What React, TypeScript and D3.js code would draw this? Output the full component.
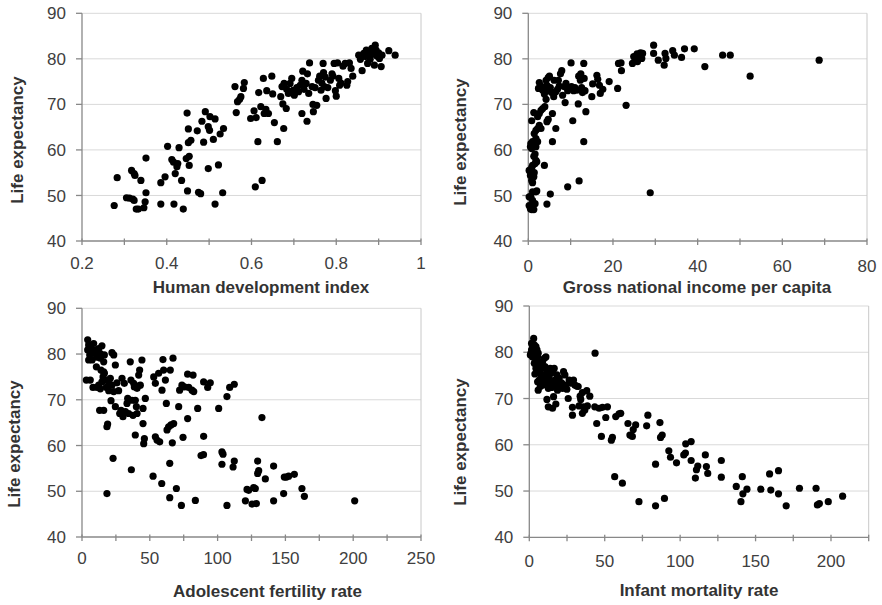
import React from "react";
import * as d3 from "d3";

// ---------- data ----------
const yTicks = [40, 50, 60, 70, 80, 90];

const hdiTicks = [0.2, 0.4, 0.6, 0.8, 1];
const hdiX = [
  0.276, 0.283, 0.305, 0.312, 0.32, 0.323, 0.317, 0.323, 0.325, 0.328, 0.333, 0.339, 0.346, 0.349, 0.351, 0.351,
  0.386, 0.386, 0.396, 0.402, 0.412, 0.416, 0.417, 0.42, 0.424, 0.426, 0.429, 0.435, 0.439, 0.446, 0.449, 0.448,
  0.451, 0.451, 0.453, 0.453, 0.457, 0.472, 0.475, 0.48, 0.483, 0.487, 0.491, 0.498, 0.498, 0.501, 0.502, 0.51,
  0.514, 0.514, 0.522, 0.526, 0.532, 0.534,
  0.561, 0.564, 0.567, 0.572, 0.575, 0.581, 0.583, 0.598, 0.606, 0.609, 0.611, 0.615, 0.617, 0.622, 0.625, 0.628,
  0.63, 0.634, 0.636, 0.64, 0.648, 0.65, 0.654, 0.661, 0.669, 0.672, 0.674, 0.676, 0.677, 0.682, 0.683, 0.687,
  0.691, 0.695, 0.698, 0.701, 0.707, 0.711, 0.715, 0.719, 0.721, 0.719, 0.724, 0.729, 0.731, 0.732, 0.735, 0.737,
  0.743, 0.745, 0.746, 0.75, 0.754, 0.758, 0.761, 0.764, 0.766, 0.769, 0.77, 0.772, 0.774, 0.776, 0.78, 0.786,
  0.79, 0.792, 0.795, 0.798, 0.8, 0.803, 0.806, 0.808, 0.811, 0.816, 0.821, 0.825, 0.827, 0.831, 0.835, 0.839,
  0.853, 0.857, 0.861, 0.865, 0.869, 0.871, 0.874, 0.876, 0.88, 0.884, 0.886, 0.89, 0.892, 0.894, 0.896, 0.9,
  0.902, 0.906, 0.908, 0.924, 0.939,
];
const hdiY = [
  47.8, 53.9, 49.5, 49.4, 49.2, 48.9, 55.5, 54.8, 54.4, 47.0, 47.0, 53.3, 47.3, 48.6, 50.6, 58.2,
  48.1, 52.8, 54.1, 60.8, 57.9, 57.3, 48.1, 54.8, 56.3, 57.0, 60.5, 53.3, 47.0, 58.1, 51.0, 68.1,
  64.6, 61.6, 58.6, 56.6, 62.1, 64.2, 50.7, 50.4, 66.3, 61.7, 68.4, 65.1, 55.9, 64.3, 67.3, 62.3,
  66.8, 48.1, 56.7, 63.5, 50.6, 64.7,
  73.9, 68.2, 70.6, 71.1, 71.7, 73.5, 74.8, 66.9, 68.6, 51.9, 67.1, 61.8, 72.6, 69.5, 53.3, 75.7,
  68.0, 68.9, 73.0, 68.0, 76.2, 72.3, 66.0, 61.8, 71.7, 73.9, 70.1, 64.7, 74.6, 69.1, 73.3, 72.4,
  74.6, 75.7, 73.1, 72.0, 73.7, 72.8, 74.2, 75.3, 77.3, 68.0, 73.3, 74.6, 66.3, 76.7, 72.4, 79.1,
  73.9, 70.0, 68.4, 73.7, 69.8, 75.3, 76.2, 73.1, 74.7, 79.0, 77.0, 73.9, 76.0, 71.3, 73.7, 75.3,
  76.7, 76.2, 79.0, 73.0, 71.8, 79.1, 75.7, 74.2, 74.7, 78.4, 79.0, 74.2, 75.0, 79.1, 77.9, 76.2,
  80.8, 79.9, 77.4, 81.2, 80.5, 81.9, 79.0, 81.2, 79.9, 82.3, 81.0, 78.6, 83.0, 81.9, 80.6, 81.3,
  80.1, 78.3, 80.8, 81.8, 80.8,
];

const gniTicks = [0, 20, 40, 60, 80];
const gniX = [
  0.2, 0.5, 0.8, 1.3, 1.6, 1.0, 0.2, 0.6, 1.0, 1.8, 2.0, 0.2, 0.5, 0.8, 1.0, 1.3, 1.4, 0.8, 1.0, 1.6, 1.8, 1.3,
  1.6, 2.0, 0.5, 0.6, 1.0, 0.8, 1.8, 2.2, 1.8, 1.4, 1.8, 2.2, 3.0, 2.6, 0.8, 1.3, 2.2, 2.6, 3.0, 3.4, 3.9, 4.2,
  4.4, 4.7, 3.8, 4.4, 5.2, 5.7, 5.7, 6.5,
  2.4, 2.6, 3.0, 3.4, 3.8, 3.9, 4.2, 4.4, 4.6, 4.7, 5.0, 5.2, 5.5, 6.0, 6.1, 6.5, 6.9, 7.1, 7.3, 7.6, 7.9, 8.1,
  8.5, 8.7, 8.9, 9.3, 9.7, 10.1, 10.2, 10.5, 10.7, 11.0, 11.5, 11.8, 11.9, 12.3, 12.4, 12.6, 12.8, 13.1, 13.1, 13.2,
  13.4, 13.6, 12.0, 9.3, 15.0, 15.2, 16.2, 16.4, 16.8, 17.0, 17.6, 19.1, 21.1, 21.3, 21.9, 22.0, 23.1, 24.6, 24.9, 25.2,
  25.7, 25.8, 26.2, 26.5, 26.8, 27.0, 28.8, 29.6, 29.6, 30.7, 32.1, 32.3, 32.5, 34.1, 34.5, 36.2, 36.9, 39.2, 41.7, 45.9,
  47.7, 52.4, 68.7,
];
const gniY = [
  47.8, 47.1, 46.9, 46.9, 48.2, 48.9, 49.7, 49.8, 50.8, 50.8, 51.0, 55.5, 54.4, 53.3, 52.8, 54.1, 55.0, 56.1, 56.6, 57.0, 57.7, 58.6,
  59.1, 57.4, 60.7, 61.4, 61.8, 60.3, 60.7, 61.8, 62.5, 63.6, 64.3, 64.7, 64.7, 65.4, 66.4, 68.2, 67.3, 68.0, 68.7, 69.1, 69.5, 71.1,
  66.2, 66.7, 56.6, 48.1, 50.3, 68.0, 61.8, 64.7,
  73.5, 74.8, 74.0, 73.1, 72.3, 73.7, 75.3, 74.2, 73.0, 75.9, 76.2, 73.7, 72.6, 71.7, 75.3, 72.8, 73.3, 75.3, 74.0, 76.7, 77.4, 72.0,
  73.9, 70.4, 74.6, 73.0, 73.7, 79.1, 73.9, 66.4, 73.0, 73.7, 73.1, 70.1, 76.2, 75.3, 76.7, 73.7, 72.6, 79.0, 61.8, 75.7,
  73.0, 68.4, 53.2, 51.9, 71.7, 74.5, 76.4, 75.5, 74.2, 72.4, 73.3, 75.0, 73.5, 79.0, 79.1, 77.4, 69.8, 79.0, 80.5, 79.7,
  81.1, 79.4, 80.5, 81.3, 80.1, 81.2, 50.6, 83.0, 81.2, 79.7, 78.6, 81.2, 80.1, 81.8, 80.8, 80.3, 82.2, 82.2, 78.3, 80.8,
  80.8, 76.2, 79.7,
];

const afrTicks = [0, 50, 100, 150, 200, 250];
const afrX = [
  3.2, 4.2, 4.2, 4.9, 5.7, 4.9, 6.6, 7.4, 6.1, 8.1, 8.6, 9.8, 10.6, 11.1, 12.3, 12.3, 13.0, 13.5, 14.0, 14.7, 15.5, 16.0,
  16.0, 16.5, 17.9, 18.4, 18.9, 18.4, 19.7, 20.9, 21.4, 22.1, 22.9, 23.4, 24.6, 24.6, 25.8, 27.0, 27.8, 28.8, 29.5, 30.2,
  31.2, 32.0, 33.2, 33.7, 35.6, 36.1, 36.4, 37.6, 38.1, 38.6, 39.3, 39.3, 40.1, 40.6, 41.1, 41.8, 42.5, 43.0, 44.2, 45.0,
  45.0, 45.5, 46.0, 46.7,
  9.1, 11.1, 13.5, 16.5, 7.4, 14.7, 17.2, 19.7, 22.1, 23.4, 34.4, 36.9, 40.6, 16.0, 13.5,
  52.4, 52.9, 54.1, 54.1, 55.3, 56.5, 57.3, 58.8, 59.0, 59.7, 60.2, 61.5, 62.2, 62.7, 63.9, 64.7, 64.7, 65.1, 65.6, 66.6,
  67.1, 67.6, 69.6, 71.3, 72.0, 73.3, 73.7, 74.5, 75.5, 77.9, 77.9, 78.7, 81.1, 81.9, 82.4, 83.6, 85.3, 87.8, 89.6, 89.7,
  89.7, 92.7, 94.6, 100.8, 103.2, 104.0, 103.2, 106.9, 106.9, 108.9, 111.4, 112.3, 112.3, 120.5, 121.7, 122.9, 125.4, 126.6,
  127.8, 128.6, 129.5, 130.3, 129.5, 132.7, 135.2, 141.3, 141.3, 148.7, 149.2, 150.7, 152.4, 156.6, 162.2, 164.0, 201.1,
];
const afrY = [
  74.3, 83.1, 80.9, 82.0, 79.8, 78.7, 81.2, 80.5, 74.3, 72.7, 82.3, 80.9, 77.2, 72.7, 81.2, 73.2, 67.7, 80.1, 76.5, 81.8, 75.0, 78.3,
  67.7, 75.8, 72.7, 64.1, 64.7, 49.5, 72.0, 74.7, 69.8, 80.3, 57.2, 79.8, 77.6, 68.5, 73.7, 72.0, 67.0, 67.7, 74.7, 66.3,
  73.6, 67.4, 69.2, 70.3, 78.3, 74.3, 54.7, 66.6, 73.6, 72.8, 62.3, 69.9, 68.5, 67.0, 73.0, 75.4, 76.5, 73.2, 78.7, 68.1,
  64.8, 60.4, 61.5, 70.3,
  80.1, 79.3, 79.1, 79.8, 78.7, 73.9, 74.3, 73.9, 73.2, 71.8, 67.0, 69.9, 72.5, 76.1, 72.4,
  53.3, 75.0, 73.6, 61.9, 61.2, 75.8, 60.8, 51.7, 72.1, 78.8, 76.5, 74.3, 69.2, 63.4, 64.1, 48.6, 56.1, 76.5, 64.5, 60.6,
  79.1, 64.8, 50.6, 68.5, 72.1, 46.9, 73.2, 61.8, 72.8, 65.9, 75.6, 72.7, 72.1, 75.4, 71.8, 48.0, 68.1, 57.8, 58.0, 62.0,
  73.9, 72.7, 73.7, 68.1, 58.6, 58.1, 55.9, 70.7, 46.9, 72.7, 55.3, 56.6, 73.4, 47.9, 50.4, 50.2, 47.2, 50.8,
  50.6, 47.3, 53.9, 54.5, 56.6, 66.1, 52.7, 55.5, 47.9, 49.5, 53.1, 53.1, 53.3, 53.7, 50.6, 48.9, 47.9,
];

const imrTicks = [0, 50, 100, 150, 200];
const imrX = [
  2.9, 1.5, 2.2, 1.1, 1.5, 3.3, 4.4, 5.1, 3.7, 4.4, 5.5, 5.9, 6.6, 5.1, 5.9, 6.6, 5.5, 7.7, 8.1, 8.8, 9.9, 11.0,
  8.8, 5.9, 9.9, 11.0, 11.7, 12.1, 12.6, 11.7, 12.6, 13.2, 13.9, 14.3, 14.8, 15.4, 15.4, 16.1, 16.5, 17.0, 17.6, 17.6,
  18.3, 18.7, 19.2, 19.8, 20.5, 21.4, 22.0, 22.7, 23.6, 24.2, 24.9, 25.8, 26.4, 27.5, 28.6, 28.6, 29.3, 30.2, 31.5, 32.4,
  33.0, 33.7, 34.1, 35.2, 35.2, 35.9, 36.8, 38.1, 38.5, 40.1, 43.6, 43.4, 44.7, 46.3, 47.8, 48.5, 50.7, 51.8, 54.4, 55.1,
  56.6, 57.3, 59.5, 60.6, 61.7, 65.4, 66.7, 68.3, 68.9, 70.5, 72.7, 77.8, 78.6, 83.7, 83.7, 86.6, 87.0, 88.1, 89.6, 92.5,
  93.6, 97.6, 102.4, 103.5, 103.7, 107.3, 107.3, 110.1, 110.8, 111.7, 116.7, 117.4, 118.3, 127.3, 127.3, 137.2, 140.3, 141.2,
  141.6, 144.3, 153.5, 159.3, 160.1, 165.2, 165.2, 170.3, 179.1, 190.1, 191.0, 192.3, 198.2, 207.7,
  0.7, 2.2, 3.3, 4.4, 3.7, 7.3, 9.5, 10.4,
];
const imrY = [
  83.0, 81.9, 81.1, 79.8, 80.5, 81.6, 81.2, 80.5, 79.4, 78.3, 79.0, 79.8, 77.6, 76.9, 75.8, 74.0, 73.6, 75.1, 76.5, 78.0, 78.7, 79.0,
  72.9, 71.8, 75.1, 74.0, 75.8, 73.3, 72.2, 69.8, 68.2, 74.7, 76.5, 73.6, 72.4, 75.6, 67.9, 70.4, 76.5, 74.0, 72.9, 68.8,
  75.1, 71.8, 73.6, 74.4, 72.6, 73.4, 72.2, 75.8, 75.1, 72.9, 72.0, 70.0, 74.0, 73.3, 68.1, 66.4, 74.0, 72.9, 72.7, 72.6,
  68.4, 70.5, 69.8, 71.3, 66.8, 68.2, 67.5, 71.7, 68.4, 70.5, 79.8, 68.2, 64.6, 67.9, 61.8, 68.1, 65.9, 68.2, 61.0, 61.6,
  53.1, 66.1, 66.7, 66.8, 51.7, 64.6, 62.1, 61.8, 63.3, 64.3, 47.7, 64.1, 66.4, 55.8, 46.8, 64.8, 61.6, 62.1, 48.4, 58.7,
  57.3, 56.1, 57.8, 58.2, 60.2, 60.7, 56.6, 52.8, 54.6, 55.4, 57.8, 55.3, 53.8, 56.6, 53.0, 51.0, 47.7, 53.1,
  49.4, 50.4, 50.4, 53.7, 50.2, 54.4, 49.4, 46.8, 50.6, 50.6, 47.0, 47.3, 47.7, 48.9,
  79.4, 79.0, 77.6, 76.5, 75.3, 72.6, 74.0, 76.9,
];

// ---------- panels ----------
type Panel = {
  xs: number[];
  ys: number[];
  xDomain: [number, number];
  xLabels: number[];
  xMinorStep: number;
  x0: number; x1: number; y0: number; y1: number;
  xLabelDy: number;
  title: string;
  titleX: number; titleY: number;
  yTitleX: number; yTitleY: number;
};

const panels: Panel[] = [
  {
    xs: hdiX, ys: hdiY, xDomain: [0.2, 1], xLabels: hdiTicks, xMinorStep: 0.1,
    x0: 82, x1: 421, y0: 241, y1: 13.3, xLabelDy: 27.5,
    title: "Human development index", titleX: 261, titleY: 293.3,
    yTitleX: 23.3, yTitleY: 140,
  },
  {
    xs: gniX, ys: gniY, xDomain: [0, 80], xLabels: gniTicks, xMinorStep: 10,
    x0: 528.3, x1: 867, y0: 241, y1: 13.3, xLabelDy: 30.5,
    title: "Gross national income per capita", titleX: 697, titleY: 293,
    yTitleX: 466, yTitleY: 142,
  },
  {
    xs: afrX, ys: afrY, xDomain: [0, 250], xLabels: afrTicks, xMinorStep: 25,
    x0: 82, x1: 421, y0: 537, y1: 308.3, xLabelDy: 27,
    title: "Adolescent fertility rate", titleX: 267.5, titleY: 597,
    yTitleX: 20, yTitleY: 444,
  },
  {
    xs: imrX, ys: imrY, xDomain: [0, 225], xLabels: imrTicks, xMinorStep: 25,
    x0: 529.3, x1: 868.7, y0: 537.3, y1: 306, xLabelDy: 30,
    title: "Infant mortality rate", titleX: 699, titleY: 596,
    yTitleX: 466, yTitleY: 442,
  },
];

const FONT = "'Liberation Sans', Arial, sans-serif";
const fmt = d3.format("~g");

function ScatterPanel({ p }: { p: Panel }) {
  const x = d3.scaleLinear().domain(p.xDomain).range([p.x0, p.x1]);
  const y = d3.scaleLinear().domain([40, 90]).range([p.y0, p.y1]);
  const minor = d3.range(p.xDomain[0], p.xDomain[1] + p.xMinorStep / 2, p.xMinorStep);
  return (
    <g>
      {yTicks.filter((t) => t > 40).map((t) => (
        <line key={"g" + t} x1={p.x0} x2={p.x1} y1={y(t)} y2={y(t)} stroke="#d9d9d9" strokeWidth={1} />
      ))}
      <line x1={p.x1} x2={p.x1} y1={p.y1} y2={p.y0} stroke="#c8c8c8" strokeWidth={1} />
      <line x1={p.x0} x2={p.x1} y1={p.y0} y2={p.y0} stroke="#888" strokeWidth={1.3} />
      <line x1={p.x0} x2={p.x0} y1={p.y1} y2={p.y0} stroke="#888" strokeWidth={1.3} />
      {minor.map((t, i) => (
        <line key={"xt" + i} x1={x(t)} x2={x(t)} y1={p.y0 - 2.5} y2={p.y0 + 4} stroke="#888" strokeWidth={1.3} />
      ))}
      {yTicks.map((t) => (
        <line key={"yt" + t} x1={p.x0 - 6} x2={p.x0} y1={y(t)} y2={y(t)} stroke="#888" strokeWidth={1.3} />
      ))}
      {yTicks.map((t) => (
        <text key={"yl" + t} x={p.x0 - 16} y={y(t) + 6.1} textAnchor="end" fontSize={17} fill="#404040" fontFamily={FONT}>
          {t}
        </text>
      ))}
      {p.xLabels.map((t) => (
        <text key={"xl" + t} x={x(t)} y={p.y0 + p.xLabelDy} textAnchor="middle" fontSize={17} fill="#404040" fontFamily={FONT}>
          {fmt(t)}
        </text>
      ))}
      <text x={p.titleX} y={p.titleY} textAnchor="middle" fontSize={17} fontWeight="bold" fill="#333" fontFamily={FONT}>
        {p.title}
      </text>
      <text
        transform={`translate(${p.yTitleX},${p.yTitleY}) rotate(-90)`}
        textAnchor="middle" fontSize={17} fontWeight="bold" fill="#333" fontFamily={FONT}
      >
        Life expectancy
      </text>
      {p.xs.map((v, i) => (
        <circle key={"c" + i} cx={x(v)} cy={y(p.ys[i])} r={3.6} fill="#000" />
      ))}
    </g>
  );
}

export default function App() {
  return (
    <svg width={882} height={605} style={{ position: "absolute", left: 0, top: 0, background: "#fff" }}>
      <rect width={882} height={605} fill="#fff" />
      {panels.map((p, i) => (
        <ScatterPanel key={i} p={p} />
      ))}
    </svg>
  );
}
